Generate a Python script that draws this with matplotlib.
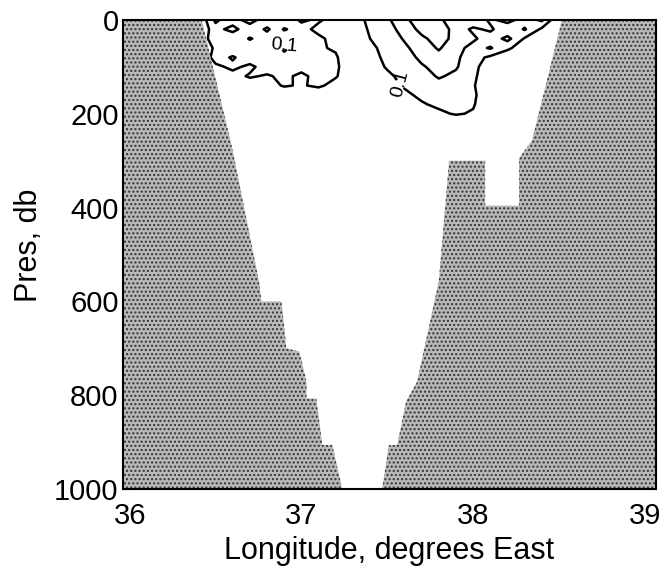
import numpy as np
import matplotlib
matplotlib.use("Agg")
import matplotlib.pyplot as plt

plt.rcParams["font.family"] = ["Liberation Sans", "DejaVu Sans"]
plt.rcParams["hatch.linewidth"] = 1.0

# seabed: bottom pressure (db) along the section
bed_lon = [35.90, 36.42, 36.60, 36.756, 36.767, 36.884, 36.913, 36.988, 37.03, 37.03,
           37.087, 37.122, 37.18, 37.238, 37.47, 37.51, 37.558, 37.61, 37.674, 37.80,
           37.86, 38.07, 38.07, 38.267, 38.267, 38.343, 38.517, 39.10]
bed_pres = [0, 0, 278, 563, 600, 600, 700, 707, 771, 807,
            807, 906, 906, 1000, 1000, 906, 906, 813, 771, 557,
            300, 300, 396, 396, 295, 257, 0, 0]

# near-surface field on a coarse grid (rows = pressure, columns = longitude)
grid_lon = [36.4, 36.5, 36.6, 36.7, 36.8, 36.9, 37.0, 37.1, 37.2, 37.3, 37.4, 37.5,
            37.6, 37.7, 37.8, 37.9, 38.0, 38.1, 38.2, 38.3, 38.4, 38.5, 38.6]
grid_pres = [0, 20, 40, 60, 80, 100, 120, 140, 160, 180, 200, 220]
field = [
    [0.0, 0.22, 0.14, 0.26, 0.12, 0.18, 0.08, 0.12, 0.04, 0.06, 0.12, 0.18, 0.28, 0.35, 0.32, 0.24, 0.28, 0.18, 0.24, 0.15, 0.22, 0.0, 0.0],
    [0.0, 0.16, 0.24, 0.12, 0.22, 0.09, 0.15, 0.06, 0.03, 0.05, 0.11, 0.16, 0.24, 0.33, 0.36, 0.26, 0.18, 0.22, 0.12, 0.21, 0.08, 0.0, 0.0],
    [0.0, 0.18, 0.11, 0.21, 0.14, 0.17, 0.12, 0.13, 0.05, 0.04, 0.10, 0.14, 0.21, 0.28, 0.34, 0.27, 0.22, 0.14, 0.23, 0.09, 0.04, 0.0, 0.0],
    [0.0, 0.12, 0.16, 0.13, 0.19, 0.08, 0.16, 0.11, 0.09, 0.03, 0.08, 0.13, 0.18, 0.25, 0.31, 0.24, 0.16, 0.21, 0.12, 0.04, 0.02, 0.0, 0.0],
    [0.0, 0.14, 0.09, 0.15, 0.11, 0.13, 0.12, 0.14, 0.11, 0.03, 0.07, 0.12, 0.16, 0.22, 0.27, 0.22, 0.14, 0.08, 0.03, 0.02, 0.02, 0.0, 0.0],
    [0.0, 0.08, 0.12, 0.08, 0.14, 0.11, 0.13, 0.12, 0.12, 0.02, 0.05, 0.11, 0.14, 0.19, 0.23, 0.21, 0.13, 0.04, 0.02, 0.02, 0.02, 0.0, 0.0],
    [0.0, 0.05, 0.07, 0.11, 0.09, 0.12, 0.08, 0.13, 0.11, 0.02, 0.04, 0.08, 0.13, 0.16, 0.21, 0.18, 0.12, 0.03, 0.02, 0.02, 0.02, 0.0, 0.0],
    [0.0, 0.03, 0.04, 0.05, 0.06, 0.11, 0.09, 0.12, 0.06, 0.02, 0.03, 0.06, 0.11, 0.14, 0.17, 0.16, 0.11, 0.02, 0.02, 0.02, 0.02, 0.0, 0.0],
    [0.0, 0.02, 0.02, 0.02, 0.02, 0.02, 0.02, 0.02, 0.02, 0.02, 0.02, 0.04, 0.08, 0.12, 0.13, 0.14, 0.12, 0.02, 0.02, 0.02, 0.02, 0.0, 0.0],
    [0.0, 0.02, 0.02, 0.02, 0.02, 0.02, 0.02, 0.02, 0.02, 0.02, 0.02, 0.03, 0.05, 0.09, 0.12, 0.13, 0.11, 0.02, 0.02, 0.02, 0.02, 0.0, 0.0],
    [0.0, 0.02, 0.02, 0.02, 0.02, 0.02, 0.02, 0.02, 0.02, 0.02, 0.02, 0.02, 0.03, 0.06, 0.08, 0.11, 0.09, 0.02, 0.02, 0.02, 0.02, 0.0, 0.0],
    [0.0, 0.02, 0.02, 0.02, 0.02, 0.02, 0.02, 0.02, 0.02, 0.02, 0.02, 0.02, 0.02, 0.02, 0.02, 0.02, 0.02, 0.02, 0.02, 0.02, 0.02, 0.0, 0.0],
]
levels = [0.1, 0.2, 0.3]
label_spots = [(36.98, 45), (37.45, 140)]

x_ticks = [36, 37, 38, 39]
y_ticks = [0, 200, 400, 600, 800, 1000]

fig = plt.figure(figsize=(6.6, 5.68), dpi=100)
ax = fig.add_axes([0.186, 0.139, 0.808, 0.826])

cs = ax.contour(grid_lon, grid_pres, np.array(field), levels=levels,
                colors="black", linewidths=1.8, zorder=2)
ax.clabel(cs, levels=[0.1], fmt="%.1f", fontsize=14, manual=label_spots, inline=True)

ax.fill_between(bed_lon, bed_pres, 1000, facecolor="#b8b8b8", edgecolor="#333333",
                hatch="....", linewidth=0, zorder=3)

ax.set_xlim(35.96, 39.065)
ax.set_ylim(1000, 0)
ax.set_xticks(x_ticks)
ax.set_yticks(y_ticks)
ax.tick_params(direction="in", length=4, labelsize=21)
ax.tick_params(axis="x", pad=9)
ax.tick_params(axis="y", pad=3)
for s in ax.spines.values():
    s.set_linewidth(1.5)
    s.set_zorder(5)

ax.set_xlabel("Longitude, degrees East", fontsize=22)
ax.set_ylabel("Pres, db", fontsize=22, va="center")
ax.xaxis.set_label_coords(0.5, -0.1)
ax.yaxis.set_label_coords(-0.175, 0.52)

fig.savefig("out.png", dpi=100)
